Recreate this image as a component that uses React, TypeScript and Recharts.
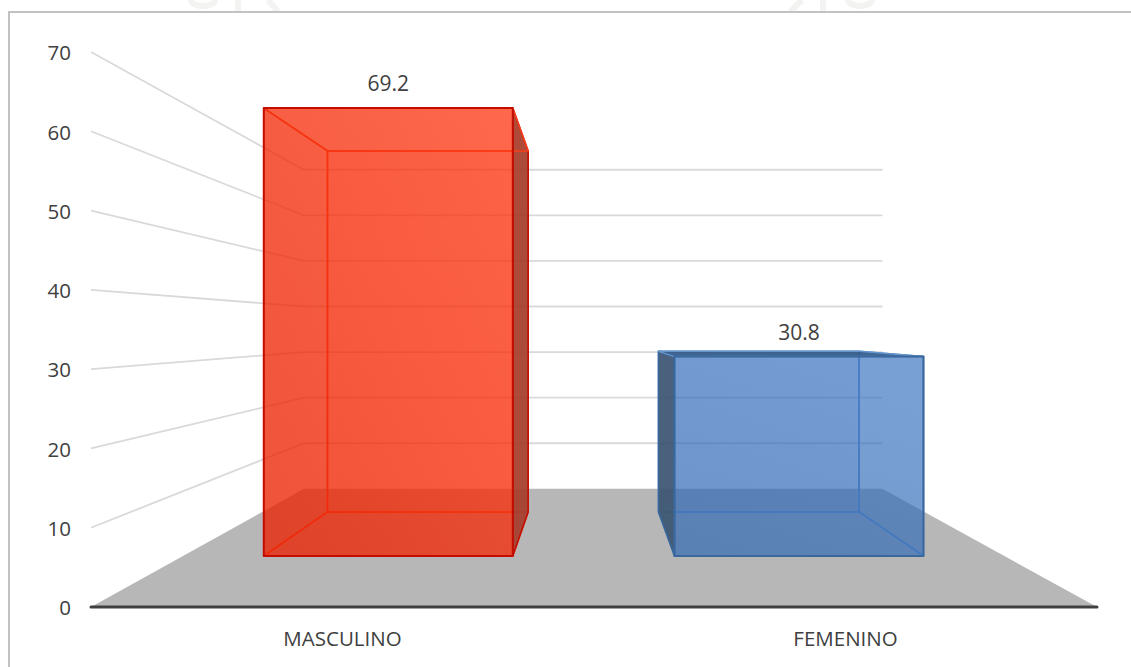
import { BarChart, Bar, XAxis, YAxis, CartesianGrid, LabelList } from 'recharts';

const categories = ['MASCULINO', 'FEMENINO'];
const percentages = [69.2, 30.8];
const yTicks = [0, 10, 20, 30, 40, 50, 60, 70];

const data = categories.map((name, i) => ({ name, value: percentages[i] }));

// one look per category
const FRONT_FILLS = ['url(#redFront)', 'url(#blueFront)'];
const FRONT_STROKES = ['#c40d00', '#3a689c'];
const BACK_STROKES = ['#f8401e', '#6494cc'];
const BACK_FILLS = ['rgba(248,46,8,0.15)', 'rgba(45,100,180,0.13)'];
const TOP_FILLS = ['rgba(245,35,5,0.06)', 'rgba(45,85,135,0.9)'];
const SIDE_FILLS = ['#a53e2c', '#3c5572'];
const INNER_SIDE_FILLS = ['rgba(200,30,5,0.1)', 'rgba(45,95,170,0.06)'];

// fake 3D: everything on the flat plot is pulled towards a vanishing point
const VANISH_X = 592;
const VANISH_Y = 329;
const WALL_DEPTH = 0.575;
const BAR_FRONT_DEPTH = 0.8165;
const BAR_BACK_DEPTH = 0.658;

const PLOT_LEFT = 91;
const PLOT_RIGHT = 1097;
const PLOT_BOTTOM = 607;

const project = (x: number, y: number, depth: number) => [
  VANISH_X + (x - VANISH_X) * depth,
  VANISH_Y + (y - VANISH_Y) * depth,
];

const pts = (list: number[][]) => list.map((p) => p.join(',')).join(' ');

// walls and floor, one call per y tick
function WallLine(props: any) {
  const { y1, key } = props;
  const [, backY] = project(PLOT_LEFT, y1, WALL_DEPTH);
  const [backLeft] = project(PLOT_LEFT, y1, WALL_DEPTH);
  const [backRight] = project(PLOT_RIGHT, y1, WALL_DEPTH);
  if (Math.abs(y1 - PLOT_BOTTOM) < 1) {
    return (
      <polygon
        key={key}
        points={pts([[PLOT_LEFT, y1], [backLeft, backY], [backRight, backY], [PLOT_RIGHT, y1]])}
        fill="#b7b7b7"
      />
    );
  }
  return (
    <polyline
      key={key}
      points={pts([[PLOT_LEFT, y1], [backLeft, backY], [backRight, backY]])}
      fill="none"
      stroke="#d9d9d9"
      strokeWidth={1.8}
    />
  );
}

function Box(props: any) {
  const { x, y, width, height, index } = props;
  const right = x + width;
  const bottom = y + height;

  const fTL = project(x, y, BAR_FRONT_DEPTH);
  const fTR = project(right, y, BAR_FRONT_DEPTH);
  const fBL = project(x, bottom, BAR_FRONT_DEPTH);
  const fBR = project(right, bottom, BAR_FRONT_DEPTH);
  const bTL = project(x, y, BAR_BACK_DEPTH);
  const bTR = project(right, y, BAR_BACK_DEPTH);
  const bBL = project(x, bottom, BAR_BACK_DEPTH);
  const bBR = project(right, bottom, BAR_BACK_DEPTH);

  // the side pointing away from the vanishing point is seen from outside
  const leftOutside = bTL[0] < fTL[0];
  const rightOutside = bTR[0] > fTR[0];
  const backStroke = BACK_STROKES[index];
  const frontStroke = FRONT_STROKES[index];
  const inner = INNER_SIDE_FILLS[index];
  const side = SIDE_FILLS[index];

  return (
    <g strokeLinejoin="round">
      <polygon points={pts([bTL, bTR, bBR, bBL])} fill={BACK_FILLS[index]} stroke={backStroke} strokeWidth={1.5} />
      <polygon points={pts([fBL, fBR, bBR, bBL])} fill={inner} stroke={backStroke} strokeWidth={1.5} />
      <polygon
        points={pts([fTL, bTL, bBL, fBL])}
        fill={leftOutside ? side : inner}
        fillOpacity={leftOutside ? 0.92 : 1}
        stroke={leftOutside ? frontStroke : backStroke}
        strokeWidth={1.5}
      />
      <polygon
        points={pts([fTR, bTR, bBR, fBR])}
        fill={rightOutside ? side : inner}
        fillOpacity={rightOutside ? 0.92 : 1}
        stroke={rightOutside ? frontStroke : backStroke}
        strokeWidth={1.5}
      />
      <polygon points={pts([fTL, fTR, bTR, bTL])} fill={TOP_FILLS[index]} stroke={backStroke} strokeWidth={1.5} />
      <polygon points={pts([fTL, fTR, fBR, fBL])} fill={FRONT_FILLS[index]} stroke={frontStroke} strokeWidth={2} />
    </g>
  );
}

function BoxValue(props: any) {
  const { x, y, width, value } = props;
  const [cx, top] = project(x + width / 2, y, BAR_FRONT_DEPTH);
  return (
    <text x={cx} y={top - 25} textAnchor="middle" dominantBaseline="central" fontSize={21} fill="#404040">
      {value}
    </text>
  );
}

export default function App() {
  const tickStyle = { fontSize: 20.5, fill: '#404040' };
  return (
    <div
      style={{
        position: 'absolute',
        left: 0,
        top: 0,
        width: 1131,
        height: 667,
        overflow: 'hidden',
        background: '#fff',
        fontFamily: '"Open Sans", sans-serif',
      }}
    >
      {/* faded crest cut off by the frame */}
      <svg style={{ position: 'absolute', left: 0, top: 0 }} width={1131} height={12}>
        <g fill="none" stroke="#f3f4f1" strokeWidth={6}>
          <ellipse cx={203} cy={0} rx={12} ry={6} />
          <line x1={238} y1={0} x2={238} y2={12} />
          <line x1={268} y1={0} x2={278} y2={12} />
          <line x1={790} y1={12} x2={802} y2={0} />
          <line x1={823} y1={0} x2={823} y2={12} />
          <ellipse cx={860} cy={0} rx={12} ry={6} />
        </g>
      </svg>
      <div
        style={{
          position: 'absolute',
          left: 8,
          top: 11,
          width: 1140,
          height: 700,
          border: '2px solid #c2c2c2',
        }}
      />
      <div style={{ position: 'absolute', left: 0, top: 0 }}>
        <BarChart
          width={1131}
          height={667}
          data={data}
          barSize={305}
          margin={{ top: 52, right: 34, bottom: 0, left: 31 }}
        >
          <defs>
            <linearGradient id="redFront" x1="0" y1="1" x2="1" y2="0">
              <stop offset="0%" stopColor="#eb2101" stopOpacity={0.75} />
              <stop offset="100%" stopColor="#ff3a14" stopOpacity={0.75} />
            </linearGradient>
            <linearGradient id="blueFront" x1="0" y1="1" x2="0.4" y2="0">
              <stop offset="0%" stopColor="#2d66b2" stopOpacity={0.65} />
              <stop offset="100%" stopColor="#3771bf" stopOpacity={0.65} />
            </linearGradient>
          </defs>
          <CartesianGrid vertical={false} horizontal={WallLine} />
          <XAxis
            dataKey="name"
            height={60}
            axisLine={{ stroke: '#404040', strokeWidth: 3, strokeLinecap: 'round' }}
            tickLine={false}
            tick={tickStyle}
            tickMargin={18}
          />
          <YAxis
            width={60}
            domain={[0, 70]}
            ticks={yTicks}
            axisLine={false}
            tickLine={false}
            tick={{ ...tickStyle, dy: 1 }}
            tickMargin={14}
          />
          <Bar dataKey="value" shape={Box} isAnimationActive={false}>
            <LabelList dataKey="value" content={BoxValue} />
          </Bar>
        </BarChart>
      </div>
    </div>
  );
}
